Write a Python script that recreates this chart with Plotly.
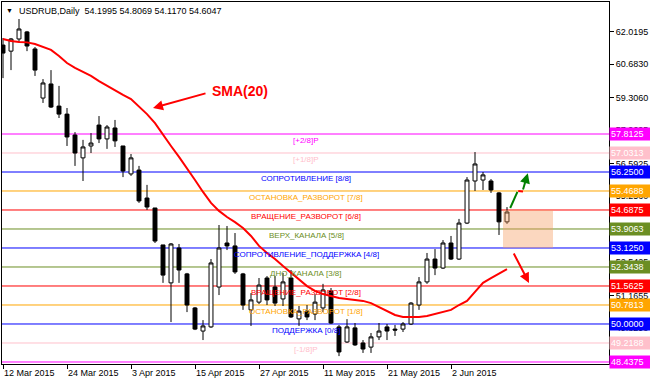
import plotly.graph_objects as go

# ---------------- data ----------------
tick_index = [0, 8, 16, 24, 32, 40, 48, 56]
tick_labels = ["12 Mar 2015", "24 Mar 2015", "3 Apr 2015", "15 Apr 2015",
               "27 Apr 2015", "11 May 2015", "21 May 2015", "2 Jun 2015"]

opens = [61.47, 61.22, 61.72, 62.01, 61.31, 59.29, 59.87, 58.96, 58.63, 57.77,
         56.83, 57.32, 58.18, 57.61, 58.06, 57.32, 56.17, 56.33, 55.18, 54.77,
         53.25, 51.69, 53.125, 52.06, 50.66, 49.71, 49.88, 51.52, 53.33, 53.21,
         52.06, 50.58, 50.90, 51.89, 51.52, 51.03, 51.89, 50.21, 50.53, 50.41,
         50.66, 51.36, 49.88, 49.26, 49.84, 49.22, 49.05, 49.47, 49.88, 49.79,
         49.79, 50.00, 50.78, 51.73, 52.67, 52.30, 53.33, 52.67, 54.15, 55.88,
         55.92, 55.88, 55.39, 54.1995]
highs = [61.76, 61.76, 62.54, 62.05, 61.39, 60.07, 60.44, 59.79, 58.88, 57.89,
         57.57, 57.85, 58.55, 58.18, 58.39, 57.32, 56.99, 56.50, 55.72, 54.77,
         53.25, 53.33, 53.29, 52.10, 50.70, 50.16, 52.67, 54.07, 54.03, 53.74,
         52.10, 51.27, 51.89, 51.97, 51.97, 52.10, 52.22, 50.74, 50.78, 51.23,
         51.65, 51.48, 49.96, 50.20, 50.04, 49.34, 49.63, 50.04, 50.00, 49.96,
         50.08, 50.90, 51.93, 52.92, 53.08, 53.45, 53.62, 54.32, 56.04, 57.07,
         56.25, 55.96, 55.43, 54.8069]
lows = [60.11, 60.44, 61.60, 61.22, 60.20, 59.09, 58.88, 58.47, 57.32, 56.50,
        55.88, 57.03, 57.44, 57.20, 57.28, 56.04, 56.09, 54.98, 54.69, 53.33,
        51.69, 50.08, 51.69, 50.49, 49.75, 49.34, 49.84, 51.19, 53.04, 52.06,
        50.58, 49.92, 50.82, 50.78, 50.74, 50.74, 50.25, 49.92, 50.16, 50.16,
        50.49, 50.00, 48.68, 49.22, 49.10, 48.81, 48.81, 49.34, 49.34, 49.51,
        49.67, 49.96, 50.58, 51.65, 52.01, 52.26, 52.63, 52.63, 54.11, 55.47,
        55.51, 55.39, 53.66, 54.1170]
closes = [61.14, 61.72, 62.13, 61.43, 60.44, 59.91, 58.92, 58.63, 57.69, 57.03,
          57.28, 57.44, 57.61, 58.10, 57.53, 56.29, 56.83, 55.06, 54.81, 53.41,
          52.01, 53.29, 52.22, 50.78, 49.79, 49.92, 52.51, 53.125, 53.21, 52.14,
          50.78, 50.99, 51.60, 50.99, 50.86, 51.73, 50.29, 50.53, 50.29, 50.90,
          51.40, 50.04, 48.85, 49.88, 49.14, 48.97, 49.47, 49.71, 49.71, 49.75,
          50.00, 50.86, 51.73, 52.67, 52.30, 53.33, 52.67, 54.15, 55.92, 56.58,
          56.13, 55.51, 54.1995, 54.6047]
sma20 = [61.72, 61.64, 61.60, 61.58, 61.51, 61.39, 61.27, 61.02, 60.73, 60.53,
         60.36, 60.20, 59.99, 59.79, 59.62, 59.42, 59.25, 58.96, 58.63, 58.26,
         57.77, 57.32, 56.87, 56.41, 55.92, 55.43, 54.98, 54.65, 54.40, 54.19,
         53.95, 53.62, 53.21, 52.92, 52.67, 52.38, 52.10, 51.85, 51.56, 51.36,
         51.23, 51.15, 51.07, 51.03, 50.99, 50.95, 50.86, 50.70, 50.53, 50.37,
         50.29, 50.29, 50.29, 50.33, 50.41, 50.49, 50.58, 50.78, 50.95, 51.32,
         51.69, 51.89, 52.06, 52.26]

level_values = [57.8125, 57.0313, 56.2500, 55.4688, 54.6875, 53.9063, 53.1250,
                52.3438, 51.5625, 50.7813, 50.0000, 49.2188, 48.4375]
level_names = ["[+2/8]P", "[+1/8]P", "СОПРОТИВЛЕНИЕ [8/8]", "ОСТАНОВКА_РАЗВОРОТ [7/8]",
               "ВРАЩЕНИЕ_РАЗВОРОТ [6/8]", "ВЕРХ_КАНАЛА [5/8]",
               "СОПРОТИВЛЕНИЕ_ПОДДЕРЖКА [4/8]", "ДНО_КАНАЛА [3/8]",
               "ВРАЩЕНИЕ_РАЗВОРОТ [2/8]", "ОСТАНОВКА_РАЗВОРОТ [1/8]",
               "ПОДДЕРЖКА [0/8]", "[-1/8]P", ""]
level_colors = ["#FF00FF", "#FFC0CB", "#0000FF", "#FFA500", "#FF0000", "#6B8E23",
                "#0000FF", "#6B8E23", "#FF0000", "#FFA500", "#0000FF", "#FFC0CB",
                "#FF00FF"]

price_ticks = [62.0195, 60.6830, 59.3060, 57.9695, 56.5925, 55.2560, 53.8790,
               52.5425, 51.1655, 49.8290]

title_text = "USDRUB,Daily  54.1995 54.8069 54.1170 54.6047"
FONT = "Liberation Sans"

idx = list(range(len(opens)))

fig = go.Figure()

fig.add_trace(go.Candlestick(
    x=idx, open=opens, high=highs, low=lows, close=closes,
    increasing=dict(line=dict(color="black", width=1), fillcolor="white"),
    decreasing=dict(line=dict(color="black", width=1), fillcolor="black"),
    whiskerwidth=0, showlegend=False, hoverinfo="skip"))

fig.add_trace(go.Scatter(x=idx, y=sma20, mode="lines",
                         line=dict(color="#FF0000", width=2),
                         showlegend=False, hoverinfo="skip"))

shapes = []
annotations = []
for v, name, c in zip(level_values, level_names, level_colors):
    shapes.append(dict(type="line", xref="paper", x0=0, x1=1, yref="y", y0=v, y1=v,
                       line=dict(color=c, width=1), layer="below"))
    if name:
        annotations.append(dict(x=37.9, y=v, xref="x", yref="y", text=name,
                                showarrow=False, xanchor="center", yanchor="top",
                                yshift=0, font=dict(family=FONT, size=8, color=c)))
    annotations.append(dict(x=1, y=v, xref="paper", yref="y", text=f"{v:.4f}",
                            showarrow=False, xanchor="left", yanchor="middle",
                            width=38, align="left", bgcolor=c, borderpad=1,
                            font=dict(family=FONT, size=9, color="white")))

# forecast zone
shapes.append(dict(type="rect", xref="x", yref="y", x0=62.5, x1=68.75,
                   y0=53.125, y1=54.6875, line=dict(width=0),
                   fillcolor="rgba(246,156,96,0.4)", layer="above"))
# green arrow path
shapes.append(dict(type="line", xref="x", yref="y", x0=63.4, y0=54.77, x1=64.3, y1=55.43,
                   line=dict(color="green", width=2)))
shapes.append(dict(type="line", xref="x", yref="y", x0=64.4, y0=55.47, x1=65.0, y1=55.45,
                   line=dict(color="#FF0000", width=2)))
annotations.append(dict(x=65.6, y=56.2, ax=64.95, ay=55.47, xref="x", yref="y",
                        axref="x", ayref="y", text="", showarrow=True,
                        arrowhead=2, arrowsize=1, arrowwidth=2, arrowcolor="green",
                        standoff=0, startstandoff=0))
# red arrow down
annotations.append(dict(x=65.75, y=51.69, ax=63.75, ay=52.96, xref="x", yref="y",
                        axref="x", ayref="y", text="", showarrow=True,
                        arrowhead=2, arrowsize=1, arrowwidth=2, arrowcolor="#FF0000",
                        standoff=0, startstandoff=0))
# SMA label arrow
annotations.append(dict(x=18.75, y=58.88, ax=25.5, ay=59.50, xref="x", yref="y",
                        axref="x", ayref="y", text="", showarrow=True,
                        arrowhead=2, arrowsize=1, arrowwidth=2, arrowcolor="#FF0000",
                        standoff=0, startstandoff=0))
annotations.append(dict(x=29.6, y=59.58, xref="x", yref="y", text="<b>SMA(20)</b>",
                        showarrow=False, font=dict(family=FONT, size=14, color="#FF0000")))
# header
annotations.append(dict(x=0, y=1, xref="paper", yref="paper", text="▼",
                        xanchor="left", yanchor="top", xshift=2, yshift=-3,
                        showarrow=False, font=dict(family=FONT, size=7, color="black")))
annotations.append(dict(x=0, y=1, xref="paper", yref="paper", text=title_text,
                        xanchor="left", yanchor="top", xshift=15, yshift=-2,
                        showarrow=False, font=dict(family=FONT, size=9, color="black")))

fig.update_layout(
    width=650, height=380,
    margin=dict(l=2, r=41, t=2, b=16, autoexpand=False),
    paper_bgcolor="white", plot_bgcolor="white",
    shapes=shapes, annotations=annotations,
    showlegend=False,
    font=dict(family=FONT, size=9, color="black"),
    xaxis=dict(range=[-0.125, 75.75], rangeslider=dict(visible=False),
               tickmode="array", tickvals=tick_index, ticktext=tick_labels,
               ticks="outside", ticklen=4, tickcolor="black",
               ticklabelposition="outside right", automargin=False,
               showgrid=False, zeroline=False,
               showline=True, linecolor="black", linewidth=1, mirror=True,
               tickfont=dict(family=FONT, size=9, color="black")),
    yaxis=dict(range=[48.355, 63.24], side="right", automargin=False,
               tickmode="array", tickvals=price_ticks,
               ticktext=[f"{t:.4f}" for t in price_ticks],
               ticks="outside", ticklen=4, tickcolor="black",
               showgrid=False, zeroline=False,
               showline=True, linecolor="black", linewidth=1, mirror=True,
               tickfont=dict(family=FONT, size=9, color="black")),
)

fig.write_html("out.html", config={"displayModeBar": False},
               post_script="document.body.style.margin='0';document.body.style.padding='0';")
